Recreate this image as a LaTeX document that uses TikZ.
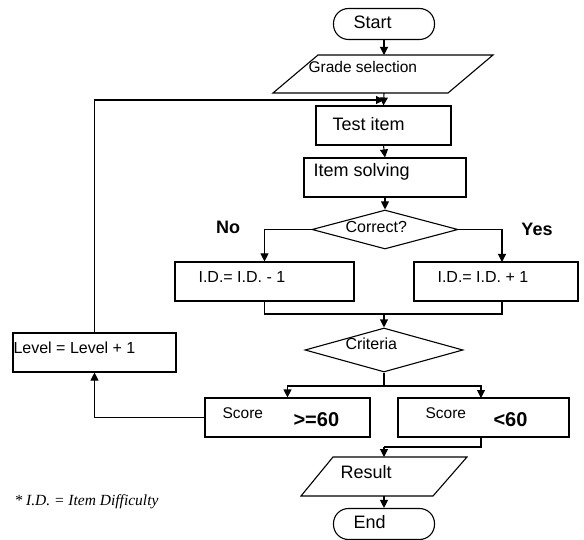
\documentclass[tikz,border=0pt]{standalone}
\usepackage{fontspec}
\setmainfont{Liberation Sans}
\newfontfamily\serifit{Liberation Serif}
\usetikzlibrary{arrows.meta,shapes.geometric}
\begin{document}
\begin{tikzpicture}[x=1pt,y=-1pt,line width=1.1pt,
  >={Triangle[length=8pt,width=8pt]},
  box/.style={draw,rectangle,inner sep=0pt,line width=1.1pt},
  term/.style={draw,rectangle,rounded corners=15pt,inner sep=0pt,line width=1.1pt},
  dia/.style={draw,diamond,inner sep=0pt,line width=1.1pt},
  lbl/.style={anchor=west,inner sep=0pt},
  fa/.style={font=\fontsize{18}{20}\selectfont},
  fb/.style={font=\fontsize{16}{18}\selectfont},
  fc/.style={font=\fontsize{15.5}{17}\selectfont},
  fbold/.style={font=\fontsize{18}{20}\selectfont\bfseries},
  fbig/.style={font=\fontsize{20}{22}\selectfont\bfseries}]
\useasboundingbox (0,0) rectangle (584,540);

% shapes
\node[term,minimum width=101pt,minimum height=31pt] (start) at (384,24) {};
\draw (318,55) -- (493,55) -- (448,93) -- (273,93) -- cycle;
\coordinate (gtop) at (384,55);
\coordinate (gbot) at (384,93);
\node[box,minimum width=135pt,minimum height=39pt] (test) at (383.5,125.5) {};
\node[box,minimum width=162pt,minimum height=39pt] (solve) at (385,177.5) {};
\node[dia,minimum width=146pt,minimum height=39pt] (correct) at (385,229.5) {};
\node[box,minimum width=179pt,minimum height=39pt] (iddec) at (264.5,281.5) {};
\node[box,minimum width=164pt,minimum height=39pt] (idinc) at (496,281.5) {};
\coordinate (incin) at (502,262);
\coordinate (incout) at (502,301);
\node[dia,minimum width=158pt,minimum height=44pt] (crit) at (384,350) {};
\node[box,minimum width=163pt,minimum height=39pt] (level) at (94.5,352.5) {};
\node[box,minimum width=165pt,minimum height=39pt] (s60) at (287.5,417.5) {};
\node[box,minimum width=171pt,minimum height=39pt] (sl60) at (483.5,417.5) {};
\coordinate (sl60in) at (481,398);
\coordinate (sl60out) at (481,437);
\draw (333,457) -- (467,457) -- (433,496) -- (301,496) -- cycle;
\coordinate (rtop) at (384,457);
\coordinate (rbot) at (384,496);
\node[term,minimum width=101pt,minimum height=31pt] (end) at (384,524) {};

% texts
\node[lbl,fa] (tstart) at (353,22) {Start};
\node[lbl,fc] (tgrade) at (308,67) {Grade selection};
\node[lbl,fa] (ttest) at (332,124) {Test item};
\node[lbl,fa] (tsolve) at (313,172) {Item solving};
\node[lbl,fb] (tcorrect) at (345,227) {Correct?};
\node[fbold,inner sep=0pt] (tno) at (228,227) {No};
\node[fbold,inner sep=0pt] (tyes) at (537,229) {Yes};
\node[lbl,fb] (tdec) at (198,277) {I.D.= I.D. - 1};
\node[lbl,fb] (tinc) at (437,277) {I.D.= I.D. + 1};
\node[lbl,fb] (tcrit) at (345,344) {Criteria};
\node[lbl,fb] (tlevel) at (13,348) {Level = Level + 1};
\node[lbl,fc] (tscore1) at (222,413) {Score};
\node[lbl,fbig] (tge) at (293,420) {>=60};
\node[lbl,fc] (tscore2) at (425,413) {Score};
\node[lbl,fbig] (tlt) at (493,420) {<60};
\node[lbl,fa] (tresult) at (340,472) {Result};
\node[lbl,fa] (tend) at (353,522) {End};
\node[lbl,font=\fontsize{15.5}{17}\serifit\itshape] (tnote) at (14,502) {* I.D. = Item Difficulty};

% connectors
\draw[->] (start.south) -- (gtop);
\draw[->] (gbot) -- (test.north);
\coordinate (loopend) at (384,100);
\draw[->] (level.north) |- (loopend);
\draw[->] (test.south) -- (solve.north);
\draw[->] (solve.south) -- (correct.north);
\draw[->] (correct.west) -| (iddec.north);
\draw[->] (correct.east) -| (incin);
\coordinate (join) at (384,314);
\draw (iddec.south) |- (join) -| (incout);
\draw[->] (join) -- (crit.north);
\coordinate (split) at (384,386);
\draw (crit.south) -- (split);
\draw[->] (split) -| (s60.north);
\draw[->] (split) -| (sl60in);
\draw[->] (s60.west) -| (level.south);
\coordinate (merge) at (384,447);
\draw (sl60out) |- (merge);
\draw[->] (merge) -- (rtop);
\draw[->] (rbot) -- (end.north);
\end{tikzpicture}
\end{document}
